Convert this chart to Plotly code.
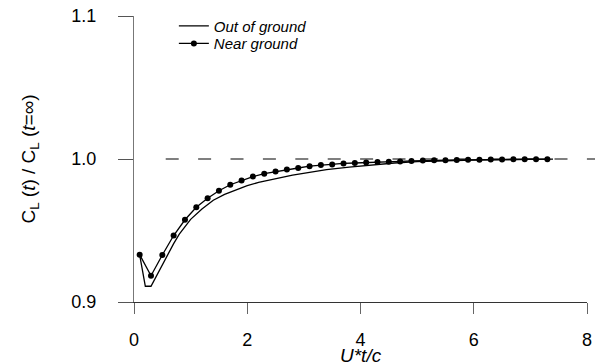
import plotly.graph_objects as go

# Out of ground (solid line)
out_x = [0.1, 0.2, 0.3, 0.4, 0.5, 0.6, 0.7, 0.8, 0.9, 1.0, 1.2, 1.4, 1.6, 1.8, 2.0,
         2.2, 2.5, 2.8, 3.1, 3.4, 3.8, 4.2, 4.6, 5.0, 5.5, 6.0, 6.5, 7.0, 7.4]
out_y = [0.933, 0.911, 0.911, 0.9185, 0.9265, 0.934, 0.9408, 0.9475, 0.953, 0.9578,
         0.965, 0.9712, 0.9752, 0.9784, 0.9813, 0.9837, 0.9863, 0.9887, 0.9907,
         0.9925, 0.9943, 0.996, 0.9972, 0.9981, 0.9988, 0.9993, 0.9996, 0.9998, 0.9999]

# Near ground (line with dots)
near_x = [0.1, 0.3, 0.5, 0.7, 0.9, 1.1, 1.3, 1.5, 1.7, 1.9, 2.1, 2.3, 2.5, 2.7, 2.9,
          3.1, 3.3, 3.5, 3.7, 3.9, 4.1, 4.3, 4.5, 4.7, 4.9, 5.1, 5.3, 5.5, 5.7, 5.9,
          6.1, 6.3, 6.5, 6.7, 6.9, 7.1, 7.3]
near_y = [0.9331, 0.9184, 0.9329, 0.9465, 0.9575, 0.9662, 0.9725, 0.9778, 0.982,
          0.985, 0.9877, 0.9897, 0.9912, 0.9926, 0.9937, 0.9950, 0.9958, 0.9962,
          0.9969, 0.9972, 0.9976, 0.9979, 0.9981, 0.9983, 0.9986, 0.9989, 0.9991,
          0.9992, 0.9993, 0.9994, 0.9995, 0.9996, 0.9997, 0.9998, 0.9998, 0.9999, 0.9999]

x_ticks = [0, 2, 4, 6, 8]
y_ticks = [0.9, 1.0, 1.1]
y_tick_labels = ["0.9", "1.0", "1.1"]
x_title = "<i>U*t/c</i>"
y_title = "C<sub>L</sub> (<i>t</i>) / C<sub>L</sub> (<i>t</i>=∞)"

FONT = "Liberation Sans, Arial, sans-serif"

fig = go.Figure()
fig.add_trace(go.Scatter(x=out_x, y=out_y, mode="lines", name="Out of ground",
                         legend="legend",
                         line=dict(color="black", width=1.3)))
fig.add_trace(go.Scatter(x=near_x, y=near_y, mode="lines+markers", name="Near ground",
                         legend="legend2",
                         line=dict(color="black", width=1.3),
                         marker=dict(color="black", size=6)))

# dashed reference line at 1.0
fig.add_shape(type="line", xref="paper", yref="paper", x0=0.07, x1=1.02, y0=0.5, y1=0.5,
              line=dict(color="black", width=1.2, dash="13px,19.4px"))

# x-axis title
fig.add_annotation(text=x_title, xref="paper", yref="paper", x=0.5, y=-0.186,
                   xanchor="center", yanchor="middle", showarrow=False,
                   font=dict(size=19, family=FONT, color="black"))

leg_common = dict(x=0.088, xanchor="left", yanchor="top", bgcolor="rgba(0,0,0,0)",
                  font=dict(size=15, family=FONT, style="italic"))

fig.update_layout(
    width=595, height=364,
    margin=dict(l=134, r=8, t=16, b=62),
    paper_bgcolor="white", plot_bgcolor="white",
    font=dict(family=FONT, color="black"),
    showlegend=True,
    legend=dict(y=1.022, **leg_common),
    legend2=dict(y=0.961, **leg_common),
    xaxis=dict(range=[0, 8], tickvals=x_ticks, showgrid=False, zeroline=False,
               automargin=False,
               showline=True, linecolor="#333", linewidth=1,
               ticks="outside", ticklen=11, tickcolor="#666", tickwidth=1,
               tickfont=dict(size=18), ticklabelstandoff=10),
    yaxis=dict(range=[0.9, 1.1], tickvals=y_ticks, ticktext=y_tick_labels,
               showgrid=False, zeroline=False, automargin=False,
               showline=True, linecolor="#777", linewidth=1,
               ticks="outside", ticklen=15, tickcolor="#555", tickwidth=1,
               tickfont=dict(size=18), ticklabelstandoff=18,
               title=dict(text=y_title, font=dict(size=19), standoff=30)),
)

fig.write_html("out.html", config={"displayModeBar": False},
               post_script="document.body.style.margin='0';document.body.style.overflow='hidden';")
